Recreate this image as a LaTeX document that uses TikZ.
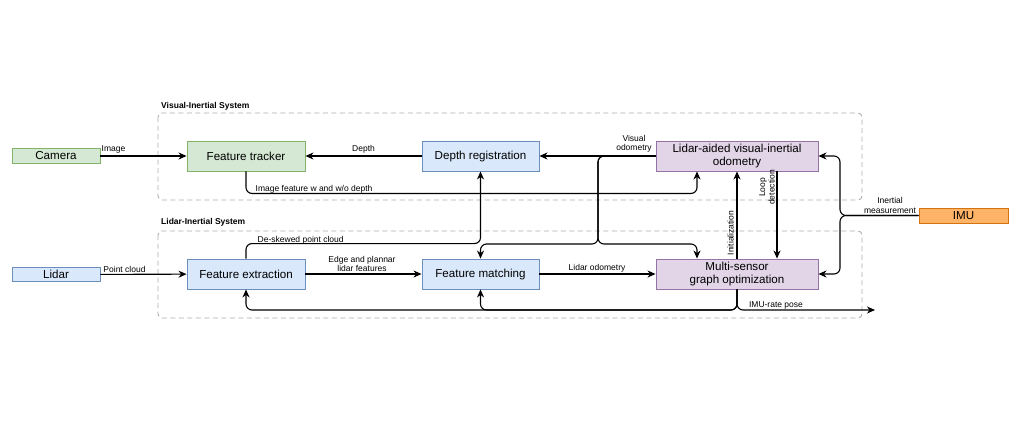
\documentclass[tikz,border=0pt]{standalone}
\usepackage{fontspec}
\setmainfont{Liberation Sans}
\usetikzlibrary{arrows.meta}
\definecolor{trackgreen}{HTML}{D5E8D4}
\definecolor{trackgreenline}{HTML}{82B366}
\definecolor{lidarblue}{HTML}{DAE8FC}
\definecolor{lidarblueline}{HTML}{6C8EBF}
\definecolor{optpurple}{HTML}{E1D5E7}
\definecolor{optpurpleline}{HTML}{9673A6}
\definecolor{imuorange}{HTML}{FFB366}
\definecolor{imuorangeline}{HTML}{D4730F}

\begin{document}
\begin{tikzpicture}[x=1pt, y=-1pt,
  blockbox/.style={draw, line width=0.9pt, minimum height=30pt, inner sep=1pt, align=center,
    font=\fontsize{11.6}{12.6}\selectfont},
  sensorbox/.style={draw, line width=0.9pt, minimum width=88pt, minimum height=15pt, inner sep=0pt,
    font=\fontsize{11.6}{12.6}\selectfont},
  lbl/.style={inner sep=0.5pt, align=center, font=\fontsize{8.5}{9.3}\selectfont},
  link/.style={line width=1.1pt, rounded corners=6pt, -{Stealth[length=8pt,width=7pt,inset=2.5pt]}},
  sysbox/.style={draw=gray!65, line width=0.9pt, dash pattern=on 5pt off 3.5pt, rounded corners=4pt},
  systitle/.style={anchor=west, inner sep=0pt, font=\bfseries\fontsize{8.5}{9.5}\selectfont}]
  \useasboundingbox (0,0) rectangle (1014,431);

  % Subsystem frames
  \draw[sysbox] (158,113) rectangle (862,200);
  \node[systitle] (vistitle) at (161,106) {Visual-Inertial System};
  \draw[sysbox] (158,231) rectangle (862,318);
  \node[systitle] (listitle) at (161,222) {Lidar-Inertial System};

  % Sensors
  \node[sensorbox, fill=trackgreen, draw=trackgreenline] (cam) at (56,156) {Camera};
  \node[sensorbox, fill=lidarblue, draw=lidarblueline, minimum height=14pt] (lidar) at (56,274.5) {Lidar};
  \node[sensorbox, fill=imuorange, draw=imuorangeline, minimum width=89pt] (imu) at (963.5,215.5) {IMU};

  % Visual-inertial blocks
  \node[blockbox, fill=trackgreen, draw=trackgreenline, minimum width=118pt] (ft) at (246,156) {Feature tracker};
  \node[blockbox, fill=lidarblue, draw=lidarblueline, minimum width=117pt] (dr) at (480.5,156) {Depth registration};
  \node[blockbox, fill=optpurple, draw=optpurpleline, minimum width=162pt] (lvio) at (737,156)
    {Lidar-aided visual-inertial\\odometry};

  % Lidar-inertial blocks
  \node[blockbox, fill=lidarblue, draw=lidarblueline, minimum width=118pt] (fe) at (246,274) {Feature extraction};
  \node[blockbox, fill=lidarblue, draw=lidarblueline, minimum width=117pt] (fm) at (480.5,274) {Feature matching};
  \node[blockbox, fill=optpurple, draw=optpurpleline, minimum width=162pt] (msgo) at (737,274)
    {Multi-sensor\\graph optimization};

  % Branch points
  \coordinate (vosplit) at (598,244);
  \coordinate (imusplit) at (840,215.5);
  \coordinate (posesplit) at (737,310);
  \coordinate (poseout) at (875,310);

  % Straight data flow
  \draw[link] (cam) -- (ft);
  \draw[link] (lidar) -- (fe);
  \draw[link] (dr) -- (ft);
  \draw[link] (lvio) -- (dr);
  \draw[link] (fe) -- (fm);
  \draw[link] (fm) -- (msgo);

  % Routed connectors
  \draw[link] (ft.south) -- ++(0,22) -| ([xshift=-40pt]lvio.south);
  \draw[link] (fe.north) -- ++(0,-15) -| (dr.south);
  \draw[link] (lvio.west) -| (vosplit) -| (fm.north);
  \draw[link] (lvio.west) -| (vosplit) -| ([xshift=-40pt]msgo.north);
  \draw[link] (msgo.north) -- (lvio.south);
  \draw[link] ([xshift=40pt]lvio.south) -- ([xshift=40pt]msgo.north);
  \draw[link] (imu.west) -- (imusplit) |- (lvio.east);
  \draw[link] (imu.west) -- (imusplit) |- (msgo.east);
  \draw[link] (msgo.south) |- (poseout);
  \draw[link] (msgo.south) -- (posesplit) -| (fm.south);
  \draw[link] (msgo.south) -- (posesplit) -| (fe.south);

  % Connector labels
  \node[lbl] (imagelbl) at (113.5,149) {Image};
  \node[lbl] (pclbl) at (124.5,269) {Point cloud};
  \node[lbl] (depthlbl) at (363.5,149) {Depth};
  \node[lbl] (volbl) at (634,144) {Visual\\odometry};
  \node[lbl, anchor=west] (featlbl) at (255,189) {Image feature w and w/o depth};
  \node[lbl, anchor=west] (deskewlbl) at (257,240) {De-skewed point cloud};
  \node[lbl] (edgelbl) at (362,264) {Edge and plannar\\lidar features};
  \node[lbl] (lolbl) at (597,268) {Lidar odometry};
  \node[lbl] (poselbl) at (776,305) {IMU-rate pose};
  \node[lbl] (imulbl) at (890,205.5) {Inertial\\measurement};
  \node[lbl, rotate=90] (initlbl) at (730.5,233) {Initialization};
  \node[lbl, rotate=90] (looplbl) at (767,187.5) {Loop\\detection};
\end{tikzpicture}
\end{document}
